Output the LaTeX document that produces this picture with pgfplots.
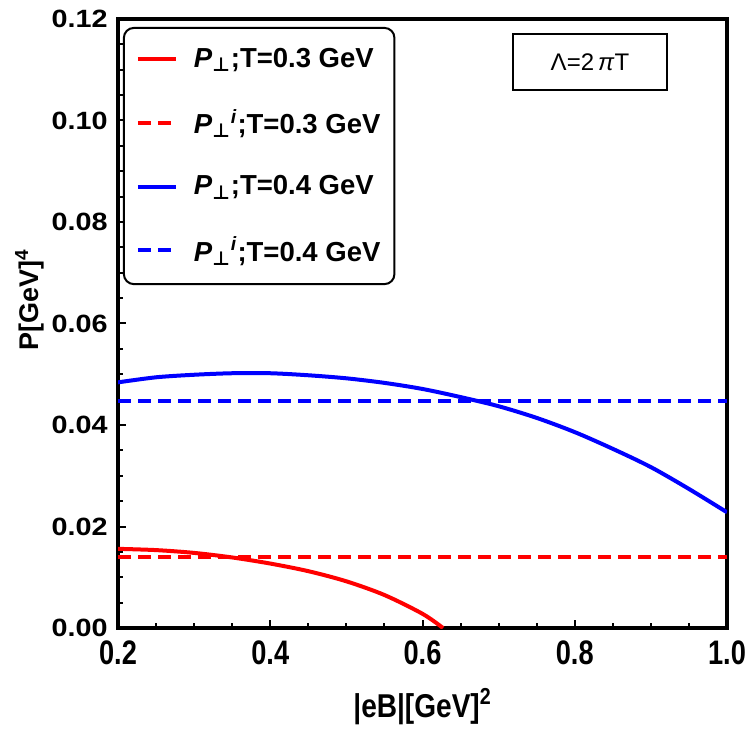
\documentclass[border=0pt]{standalone}
\usepackage{pgfplots}
\pgfplotsset{compat=1.18}
\usepackage{fontspec}
\setmainfont{Liberation Sans}
\newfontfamily\symfont{DejaVu Sans}

\definecolor{pred}{RGB}{255,0,0}
\definecolor{pblue}{RGB}{0,0,255}

\newcommand{\perpsub}{\textsubscript{{\symfont\bfseries ⊥}}}

\begin{document}
\begin{tikzpicture}
\begin{axis}[
  scale only axis,
  width=304.5pt, height=304.5pt,
  xmin=0.2, xmax=1.0, ymin=0, ymax=0.12,
  xtick={0.2,0.4,0.6,0.8,1.0},
  ytick={0,0.02,0.04,0.06,0.08,0.10,0.12},
  minor x tick num=3, minor y tick num=3,
  xtick pos=bottom, ytick pos=left,
  tick align=inside,
  major tick length=4pt, minor tick length=2.5pt,
  every tick/.style={black, line width=1pt},
  axis line style={line width=2pt},
  xticklabel={\scalebox{0.8}[1]{\pgfmathprintnumber[fixed,fixed zerofill,precision=1,assume math mode=true]{\tick}}},
  yticklabel={\scalebox{1.15}[1]{\pgfmathprintnumber[fixed,fixed zerofill,precision=2,assume math mode=true]{\tick}}},
  xticklabel style={font=\bfseries\fontsize{17}{19}\selectfont, inner sep=0pt, yshift=-6pt},
  yticklabel style={font=\bfseries\fontsize{12.5}{14}\selectfont, inner sep=0pt, xshift=-5pt},
  xlabel={\scalebox{0.85}[1]{|eB|[GeV]\textsuperscript{2}}},
  ylabel={P[GeV]\textsuperscript{4}},
  xlabel style={font=\bfseries\fontsize{16.5}{18}\selectfont,
                at={(axis description cs:0.5,-0.129)}, anchor=center},
  ylabel style={font=\bfseries\fontsize{13.5}{15}\selectfont,
                at={(axis description cs:-0.145,0.539)}, anchor=center},
  legend cell align=left,
  legend image code/.code={\draw[#1, line width=2pt] (0pt,0pt) -- (19pt,0pt);},
  legend style={
    at={(rel axis cs:0.008,0.987)}, anchor=north west,
    draw=black, line width=1pt, rounded corners=5pt,
    font=\bfseries\fontsize{13.75}{16}\selectfont,
    inner xsep=6pt, inner ysep=9pt, row sep=17.5pt,
    nodes={inner sep=1pt},
    /tikz/every odd column/.append style={column sep=7pt}
  },
]
\coordinate (ll) at (rel axis cs:0,0);
\coordinate (ur) at (rel axis cs:1,1);

% transverse pressure, T = 0.3 GeV
\addplot[pred, line width=2pt, smooth, tension=0.5] table {
x      y
0.200  0.01560
0.250  0.01535
0.300  0.01480
0.350  0.01390
0.400  0.01270
0.450  0.01120
0.500  0.00920
0.550  0.00650
0.600  0.00280
0.627  0.00000
};
\addlegendentry{\textit{P}\perpsub;T=0.3 GeV}

% ideal-gas reference, T = 0.3 GeV
\addplot[pred, line width=2pt, dash pattern=on 6.5pt off 3.5pt] table {
x    y
0.2  0.0140
1.0  0.0140
};
\addlegendentry{\textit{P}\perpsub\textsuperscript{\textit{i}};T=0.3 GeV}

% transverse pressure, T = 0.4 GeV
\addplot[pblue, line width=2pt, smooth, tension=0.5] table {
x     y
0.20  0.0484
0.25  0.0494
0.30  0.0499
0.35  0.0502
0.40  0.0502
0.45  0.0498
0.50  0.0492
0.55  0.0483
0.60  0.0471
0.65  0.0455
0.70  0.0437
0.75  0.0414
0.80  0.0386
0.85  0.0353
0.90  0.0317
0.95  0.0274
1.00  0.0228
};
\addlegendentry{\textit{P}\perpsub;T=0.4 GeV}

% ideal-gas reference, T = 0.4 GeV
\addplot[pblue, line width=2pt, dash pattern=on 6.5pt off 3.5pt] table {
x    y
0.2  0.0448
1.0  0.0448
};
\addlegendentry{\textit{P}\perpsub\textsuperscript{\textit{i}};T=0.4 GeV}

\node[draw=black, line width=1pt, minimum width=77pt, minimum height=28pt,
      font=\fontsize{12}{14}\selectfont]
  at (rel axis cs:0.775,0.929) {Λ=2\,\textit{π}T};
\end{axis}
\pgfresetboundingbox
\path[use as bounding box] ([xshift=-59pt,yshift=-52pt]ll) rectangle ([xshift=11.5pt,yshift=9.5pt]ur);
\end{tikzpicture}
\end{document}
